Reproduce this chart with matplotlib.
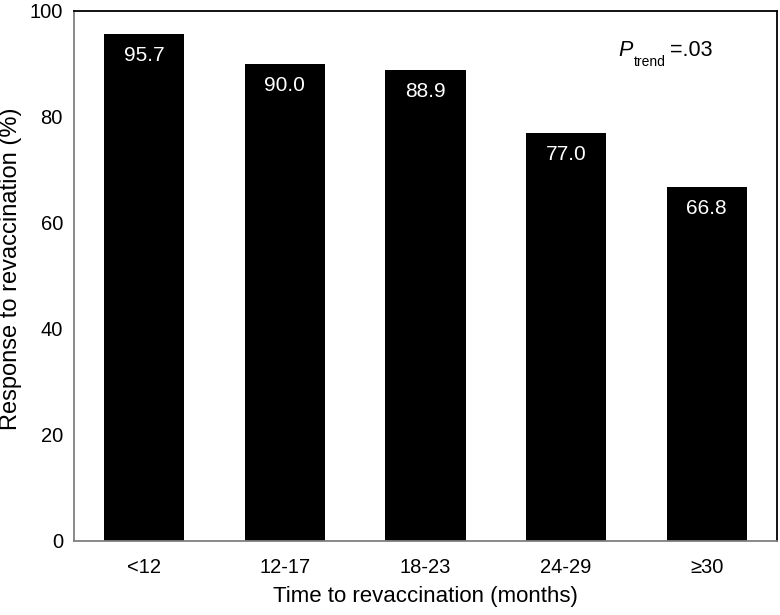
import numpy as np
import matplotlib.pyplot as plt

plt.rcParams['font.family'] = ['Liberation Sans', 'DejaVu Sans']

categories = ['<12', '12-17', '18-23', '24-29', '≥30']
response = [95.7, 90.0, 88.9, 77.0, 66.8]

fig = plt.figure(figsize=(7.8, 6.15), dpi=100)
ax = fig.add_axes([74 / 780, 1 - 541 / 615, 703 / 780, 530 / 615])

x = np.arange(len(categories))
ax.bar(x, response, width=0.57, color='black')
for xi, v in zip(x, response):
    ax.text(xi, v - 4.1, f'{v:.1f}', color='white', ha='center', va='center', fontsize=15)

ax.set_xlim(-0.5, len(categories) - 0.5)
ax.set_ylim(0, 100)
ax.set_xticks(x)
ax.set_xticklabels(categories)
ax.set_yticks(np.arange(0, 101, 20))
ax.tick_params(length=0, labelsize=14.5)
ax.tick_params(axis='x', pad=12)
ax.tick_params(axis='y', pad=8)

for side in ['left', 'bottom']:
    ax.spines[side].set_color('#808080')
    ax.spines[side].set_linewidth(1.3)
for side in ['top', 'right']:
    ax.spines[side].set_color('black')
    ax.spines[side].set_linewidth(1.3)

ax.set_xlabel('Time to revaccination (months)', fontsize=16, labelpad=7)
ax.set_ylabel('Response to revaccination (%)', fontsize=17)
ax.yaxis.set_label_coords(-0.074, 0.513)

# P_trend annotation
ax.text(3.37, 92.6, 'P', fontsize=15.5, style='italic', ha='left', va='center')
ax.text(3.48, 90.3, 'trend', fontsize=10, ha='left', va='center')
ax.text(3.74, 92.6, '=.03', fontsize=15.5, ha='left', va='center')

fig.savefig('out.png', dpi=100)
